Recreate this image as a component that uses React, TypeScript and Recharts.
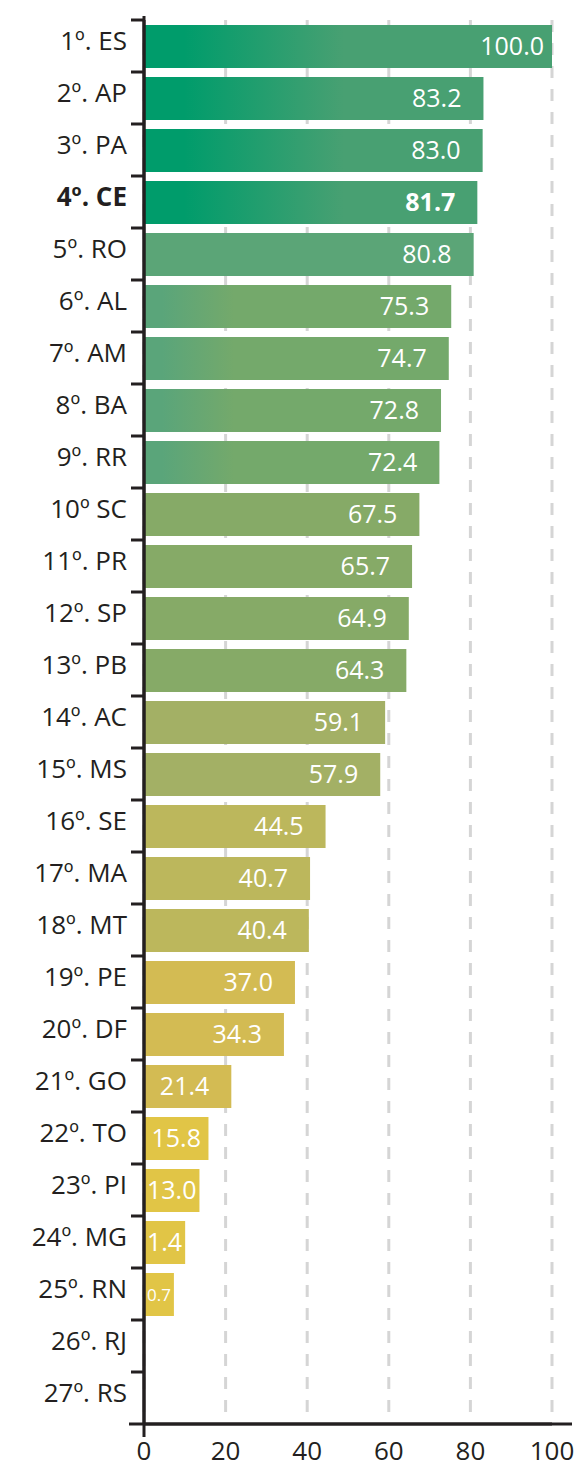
import { BarChart, Bar, XAxis, YAxis, CartesianGrid } from 'recharts';

const states = [
  '1º. ES', '2º. AP', '3º. PA', '4º. CE', '5º. RO', '6º. AL', '7º. AM', '8º. BA', '9º. RR',
  '10º SC', '11º. PR', '12º. SP', '13º. PB', '14º. AC', '15º. MS', '16º. SE', '17º. MA',
  '18º. MT', '19º. PE', '20º. DF', '21º. GO', '22º. TO', '23º. PI', '24º. MG', '25º. RN',
  '26º. RJ', '27º. RS',
];
const values: (number | null)[] = [
  100.0, 83.2, 83.0, 81.7, 80.8, 75.3, 74.7, 72.8, 72.4,
  67.5, 65.7, 64.9, 64.3, 59.1, 57.9, 44.5, 40.7,
  40.4, 37.0, 34.3, 21.4, 15.8, 13.0, 1.4, 0.7,
  null, null,
];
const xTicks = [0, 20, 40, 60, 80, 100];
const HIGHLIGHT = '4º. CE';

// colour per row: start colour, end colour, gradient length in px (0 = flat)
const GREEN = { from: '#009c6b', to: '#48a072', len: 200 };
const TEAL = { from: '#5aa57a', to: '#74a96b', len: 90 };
const fills = [
  GREEN, GREEN, GREEN, GREEN,
  { from: '#5ba577', to: '#5ba577', len: 0 },
  TEAL, TEAL, TEAL, TEAL,
  ...Array(4).fill({ from: '#8cac6c', to: '#86aa67', len: 0 }),
  ...Array(2).fill({ from: '#a3b065', to: '#a3b065', len: 0 }),
  ...Array(3).fill({ from: '#bcb75c', to: '#bcb75c', len: 0 }),
  ...Array(3).fill({ from: '#d3bb53', to: '#d3bb53', len: 0 }),
  ...Array(6).fill({ from: '#e1c546', to: '#e1c546', len: 0 }),
];

const data = states.map((state, i) => ({ state, value: values[i], i }));

const W = 580;
const H = 1467;
const M = { top: 20, right: 28, left: 0, bottom: 0 };
const YW = 144;
const XH = 43;
const BAND = (H - M.top - XH) / states.length;
const INK = '#231f20';
const FONT = "'Open Sans', sans-serif";

let ctx: CanvasRenderingContext2D | null = null;
function textWidth(s: string, size: number, bold: boolean) {
  if (!ctx) ctx = document.createElement('canvas').getContext('2d');
  if (!ctx) return s.length * size * 0.55;
  ctx.font = `${bold ? 700 : 400} ${size}px 'Open Sans'`;
  return ctx.measureText(s).width;
}

function BarShape(props: any) {
  const { x, y, width, height, payload } = props;
  if (payload == null || payload.value == null) return null;
  const v: number = payload.value;
  const idx: number = payload.i;
  const label = v.toFixed(1);
  const bold = payload.state === HIGHLIGHT;
  const size = v < 1 ? 17 : 25;
  const tw = textWidth(label, size, bold);
  // tiny bars get stretched so the label still fits
  const w = Math.max(width, tw + 6);
  const f = fills[idx];
  const id = `bar-fill-${idx}`;
  const pad = v >= 100 ? 8 : 22;
  const fitsRight = w - pad - tw >= 6;
  const tx = fitsRight ? x + w - pad : x + w / 2;
  const cy = y + height / 2;
  return (
    <g>
      <defs>
        <linearGradient id={id} gradientUnits="userSpaceOnUse" x1={x} x2={x + Math.max(f.len, 1)} y1={0} y2={0}>
          <stop offset="0" stopColor={f.from} />
          <stop offset="0.2" stopColor={f.from} />
          <stop offset="1" stopColor={f.to} />
        </linearGradient>
      </defs>
      <rect x={x} y={y} width={w} height={height} fill={`url(#${id})`} />
      <text
        x={tx}
        y={cy + size * 0.355}
        textAnchor={fitsRight ? 'end' : 'middle'}
        fontSize={size}
        fontWeight={bold ? 700 : 400}
        fontFamily={FONT}
        fill="#ffffff"
      >
        {label}
      </text>
    </g>
  );
}

function StateTick(props: any) {
  const { x, y, payload } = props;
  const bold = payload.value === HIGHLIGHT;
  return (
    <g>
      <line x1={x + 4} x2={x + 17} y1={y - BAND / 2} y2={y - BAND / 2} stroke={INK} strokeWidth={3} />
      <text x={x} y={y + 4} textAnchor="end" fontSize={26} fontWeight={bold ? 700 : 400} fontFamily={FONT} fill={INK}>
        {payload.value}
      </text>
    </g>
  );
}

function ValueTick(props: any) {
  const { x, y, payload } = props;
  return (
    <text x={x} y={y + 36} textAnchor="middle" fontSize={26} fontFamily={FONT} fill={INK}>
      {payload.value}
    </text>
  );
}

export default function App() {
  const axisY = H - XH;
  return (
    <div style={{ position: 'absolute', left: 0, top: 0, width: W, height: H, background: '#fff' }}>
      <BarChart width={W} height={H} data={data} layout="vertical" margin={M}>
        <CartesianGrid horizontal={false} stroke="#d5d5d5" strokeWidth={3} strokeDasharray="12 11" />
        <XAxis
          type="number"
          domain={[0, 100]}
          ticks={xTicks}
          height={XH}
          tickLine={false}
          tickSize={0}
          tickMargin={0}
          axisLine={{ stroke: INK, strokeWidth: 3 }}
          tick={<ValueTick />}
          interval={0}
        />
        <YAxis
          type="category"
          dataKey="state"
          width={YW}
          tickLine={false}
          tickSize={0}
          tickMargin={17}
          axisLine={{ stroke: INK, strokeWidth: 3 }}
          tick={<StateTick />}
          interval={0}
        />
        <Bar dataKey="value" barSize={43} shape={<BarShape />} isAnimationActive={false} />
      </BarChart>
      <svg width={W} height={H} style={{ position: 'absolute', left: 0, top: 0, pointerEvents: 'none' }}>
        <line x1={YW} x2={YW} y1={M.top - 4} y2={axisY + 13} stroke={INK} strokeWidth={3} />
        <line x1={YW - 15} x2={W - 8} y1={axisY} y2={axisY} stroke={INK} strokeWidth={3} />
      </svg>
    </div>
  );
}
